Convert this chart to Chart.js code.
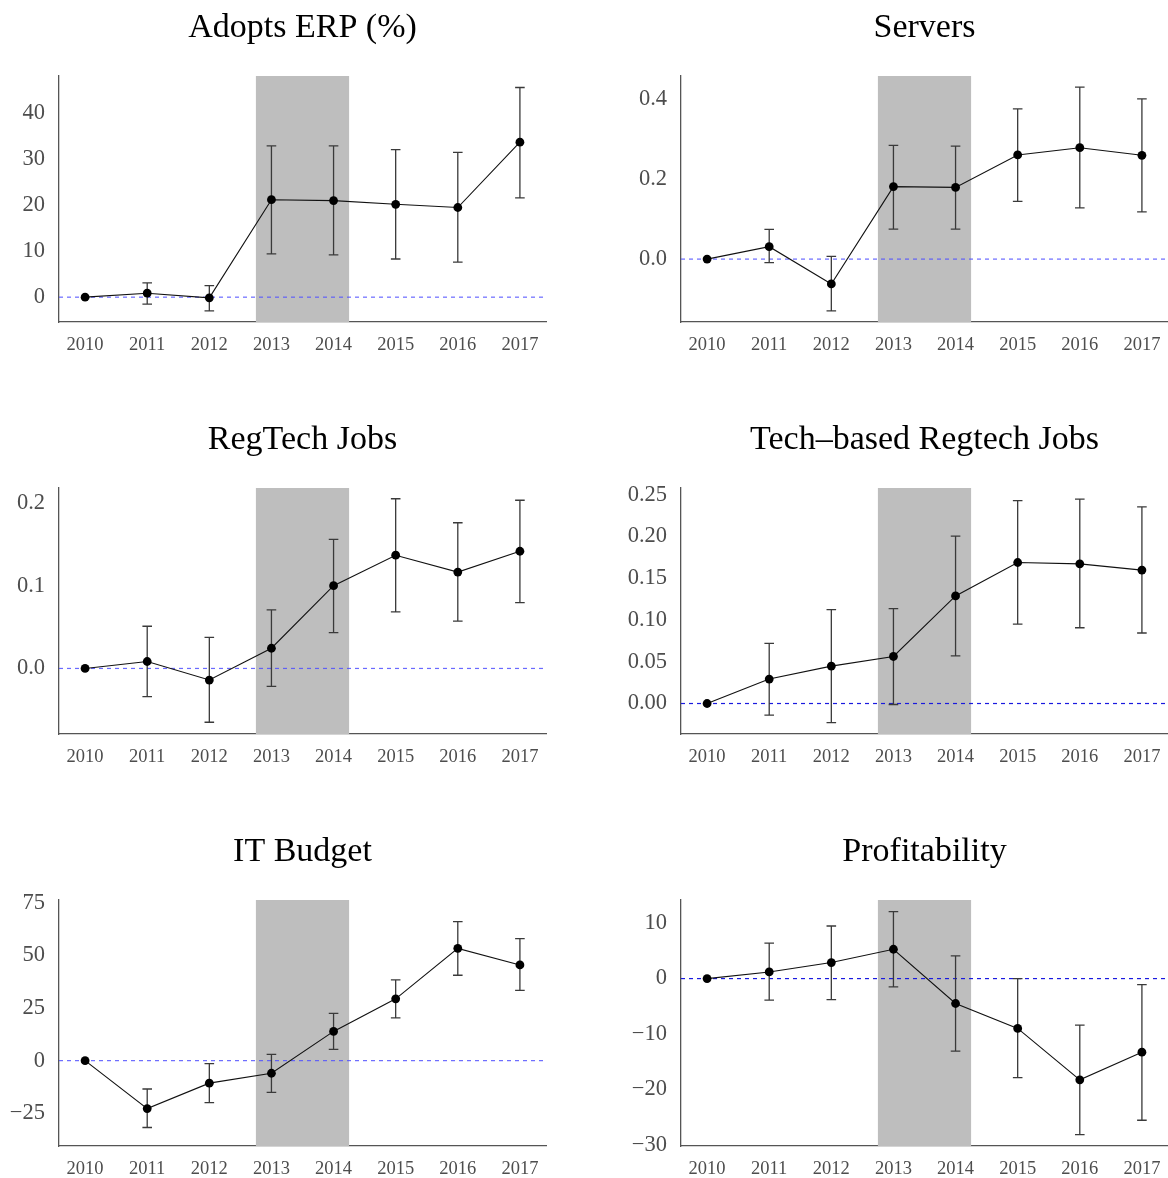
<!DOCTYPE html>
<html>
<head>
<meta charset="utf-8">
<title>Event-study estimates</title>
<script src="https://cdn.jsdelivr.net/npm/chart.js@4/dist/chart.umd.min.js"></script>
<style>
  html, body { margin: 0; padding: 0; background: #fff; overflow: hidden; }
  #grid { position: relative; width: 1168px; height: 1178px; }
  .panel { position: absolute; width: 584px; height: 360px; }
</style>
</head>
<body>
<div id="grid"></div>
<script>
// Years on the x axis
const years = [2010, 2011, 2012, 2013, 2014, 2015, 2016, 2017];

// Treatment window shaded on every panel (in years)
const shadeFrom = 2012.75;
const shadeTo = 2014.25;

// Adopts ERP (%)
const erp   = [0, 0.86, -0.15, 21.2, 21.0, 20.2, 19.5, 33.7];
const erpLo = [null, -1.5, -3.0, 9.4, 9.2, 8.3, 7.6, 21.6];
const erpHi = [null, 3.1, 2.5, 32.9, 32.9, 32.1, 31.5, 45.6];
const erpTicks = [0, 10, 20, 30, 40];
const erpTickLabels = ['0', '10', '20', '30', '40'];

// Servers
const servers   = [0, 0.031, -0.062, 0.181, 0.179, 0.260, 0.278, 0.259];
const serversLo = [null, -0.009, -0.129, 0.075, 0.075, 0.144, 0.128, 0.118];
const serversHi = [null, 0.074, 0.007, 0.284, 0.282, 0.375, 0.429, 0.400];
const serversTicks = [0, 0.2, 0.4];
const serversTickLabels = ['0.0', '0.2', '0.4'];

// RegTech Jobs
const regtech   = [0, 0.0084, -0.014, 0.0244, 0.100, 0.1368, 0.1164, 0.1416];
const regtechLo = [null, -0.034, -0.065, -0.0216, 0.0432, 0.0684, 0.0572, 0.0796];
const regtechHi = [null, 0.051, 0.0376, 0.0708, 0.156, 0.205, 0.176, 0.2032];
const regtechTicks = [0, 0.1, 0.2];
const regtechTickLabels = ['0.0', '0.1', '0.2'];

// Tech-based Regtech Jobs
const techReg   = [0, 0.0293, 0.0448, 0.0563, 0.1288, 0.1688, 0.1672, 0.1597];
const techRegLo = [null, -0.0139, -0.023, -0.0012, 0.0571, 0.0951, 0.0907, 0.0844];
const techRegHi = [null, 0.0721, 0.1125, 0.1137, 0.2005, 0.2429, 0.2448, 0.2353];
const techRegTicks = [0, 0.05, 0.10, 0.15, 0.20, 0.25];
const techRegTickLabels = ['0.00', '0.05', '0.10', '0.15', '0.20', '0.25'];

// IT Budget
const itBudget   = [0, -22.8, -10.7, -6.0, 13.9, 29.4, 53.4, 45.5];
const itBudgetLo = [null, -31.8, -20.0, -15.1, 5.4, 20.3, 40.6, 33.4];
const itBudgetHi = [null, -13.5, -1.4, 3.0, 22.5, 38.4, 66.1, 58.0];
const itBudgetTicks = [-25, 0, 25, 50, 75];
const itBudgetTickLabels = ['\u221225', '0', '25', '50', '75'];

// Profitability
const profit   = [0, 1.2, 2.9, 5.3, -4.5, -9.0, -18.3, -13.3];
const profitLo = [null, -3.9, -3.8, -1.5, -13.1, -17.9, -28.2, -25.6];
const profitHi = [null, 6.4, 9.5, 12.1, 4.1, 0, -8.4, -1.1];
const profitTicks = [-30, -20, -10, 0, 10];
const profitTickLabels = ['\u221230', '\u221220', '\u221210', '0', '10'];

const panels = [
  { title: 'Adopts ERP (%)', est: erp, lo: erpLo, hi: erpHi, ticks: erpTicks, labels: erpTickLabels,
    yMin: -5.4, yMax: 48.1, col: 0, row: 0, zeroColor: 'rgba(80,80,255,0.85)' },
  { title: 'Servers', est: servers, lo: serversLo, hi: serversHi, ticks: serversTicks, labels: serversTickLabels,
    yMin: -0.157, yMax: 0.457, col: 1, row: 0, zeroColor: 'rgba(80,80,255,0.85)' },
  { title: 'RegTech Jobs', est: regtech, lo: regtechLo, hi: regtechHi, ticks: regtechTicks, labels: regtechTickLabels,
    yMin: -0.0792, yMax: 0.218, col: 0, row: 1, zeroColor: 'rgba(80,80,255,0.85)' },
  { title: 'Tech\u2013based Regtech Jobs', est: techReg, lo: techRegLo, hi: techRegHi, ticks: techRegTicks, labels: techRegTickLabels,
    yMin: -0.0365, yMax: 0.258, col: 1, row: 1, zeroColor: '#1a1adf' },
  { title: 'IT Budget', est: itBudget, lo: itBudgetLo, hi: itBudgetHi, ticks: itBudgetTicks, labels: itBudgetTickLabels,
    yMin: -40.6, yMax: 76.4, col: 0, row: 2, zeroColor: 'rgba(80,80,255,0.85)' },
  { title: 'Profitability', est: profit, lo: profitLo, hi: profitHi, ticks: profitTicks, labels: profitTickLabels,
    yMin: -30.25, yMax: 14.2, col: 1, row: 2, zeroColor: '#1a1adf' }
];

Chart.defaults.font.family = "'Liberation Serif', 'Times New Roman', serif";

// Shaded window, dashed zero reference and confidence-interval whiskers
const eventStudyDecor = {
  id: 'eventStudyDecor',
  beforeDatasetsDraw(chart, args, opts) {
    const { ctx, chartArea: a, scales: { x, y } } = chart;
    ctx.save();
    // shaded treatment window
    const x0 = x.getPixelForValue(shadeFrom);
    const x1 = x.getPixelForValue(shadeTo);
    ctx.fillStyle = '#bebebe';
    ctx.fillRect(x0, a.top, x1 - x0, a.bottom - a.top);
    // zero reference
    const y0 = y.getPixelForValue(0);
    ctx.strokeStyle = opts.zeroColor;
    ctx.lineWidth = 1.2;
    ctx.setLineDash([4, 4]);
    ctx.beginPath();
    ctx.moveTo(a.left, y0);
    ctx.lineTo(a.right, y0);
    ctx.stroke();
    ctx.setLineDash([]);
    // whiskers
    ctx.strokeStyle = '#3a3a3a';
    ctx.lineWidth = 1.3;
    const cap = 4.8;
    opts.lo.forEach((lo, i) => {
      const hi = opts.hi[i];
      if (lo === null || hi === null) return;
      const px = x.getPixelForValue(years[i]);
      const pLo = y.getPixelForValue(lo);
      const pHi = y.getPixelForValue(hi);
      ctx.beginPath();
      ctx.moveTo(px, pLo); ctx.lineTo(px, pHi);
      ctx.moveTo(px - cap, pLo); ctx.lineTo(px + cap, pLo);
      ctx.moveTo(px - cap, pHi); ctx.lineTo(px + cap, pHi);
      ctx.stroke();
    });
    ctx.restore();
  }
};

const grid = document.getElementById('grid');
const colLeft = [0, 584];
const rowTop = [0, 412, 824];
const yAxisWidth = [59, 97];
const rightPad = [38, 0];

panels.forEach((p) => {
  const div = document.createElement('div');
  div.className = 'panel';
  div.style.left = colLeft[p.col] + 'px';
  div.style.top = rowTop[p.row] + 'px';
  const canvas = document.createElement('canvas');
  canvas.width = 584;
  canvas.height = 360;
  div.appendChild(canvas);
  grid.appendChild(div);

  new Chart(canvas, {
    type: 'line',
    data: {
      datasets: [{
        data: years.map((yr, i) => ({ x: yr, y: p.est[i] })),
        borderColor: '#111',
        borderWidth: 1.1,
        pointRadius: 4.4,
        pointBackgroundColor: '#000',
        pointBorderWidth: 0,
        tension: 0,
        clip: false
      }]
    },
    options: {
      responsive: false,
      animation: false,
      layout: { autoPadding: false, padding: { left: 0, right: rightPad[p.col], top: 0, bottom: 0 } },
      plugins: {
        legend: { display: false },
        tooltip: { enabled: false },
        title: {
          display: true,
          text: p.title,
          fullSize: false,
          color: '#000',
          font: { size: 34, weight: 'normal', lineHeight: 1.2 },
          padding: { top: 7.6, bottom: 27.6 }
        },
        eventStudyDecor: { lo: p.lo, hi: p.hi, zeroColor: p.zeroColor }
      },
      scales: {
        x: {
          type: 'linear',
          min: 2009.58,
          max: 2017.42,
          grid: { display: false, drawTicks: false, tickLength: 0 },
          border: { display: true, color: '#555', width: 1.3 },
          ticks: {
            color: '#4d4d4d',
            font: { size: 18.5 },
            padding: 12,
            autoSkip: false,
            maxRotation: 0,
            callback: (v) => String(v)
          },
          afterBuildTicks: (axis) => { axis.ticks = years.map((v) => ({ value: v })); },
          afterFit: (axis) => { axis.height = 38; axis.paddingLeft = 0; axis.paddingRight = 0; }
        },
        y: {
          type: 'linear',
          min: p.yMin,
          max: p.yMax,
          grid: { display: false, drawTicks: false, tickLength: 0 },
          border: { display: true, color: '#555', width: 1.3 },
          ticks: {
            color: '#4d4d4d',
            font: { size: 22.5 },
            padding: 14,
            autoSkip: false,
            callback: (v) => {
              const k = p.ticks.findIndex((t) => Math.abs(t - v) < 1e-9);
              return k >= 0 ? p.labels[k] : '';
            }
          },
          afterBuildTicks: (axis) => { axis.ticks = p.ticks.map((v) => ({ value: v })); },
          afterFit: (axis) => { axis.width = yAxisWidth[p.col]; axis.paddingTop = 0; axis.paddingBottom = 0; }
        }
      }
    },
    plugins: [eventStudyDecor]
  });
});
</script>
</body>
</html>
